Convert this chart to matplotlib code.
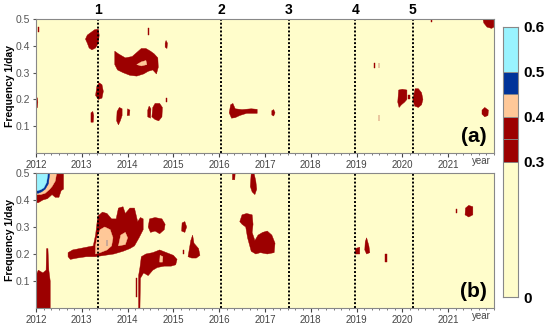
import numpy as np
import matplotlib.pyplot as plt
from matplotlib.colors import ListedColormap, BoundaryNorm

plt.rcParams['font.family'] = ['Liberation Sans', 'DejaVu Sans']

# colour levels (amplitude)
levels = [0, 0.3, 0.35, 0.4, 0.45, 0.5, 0.6]
level_colors = ["#FFFDCB", "#9C0000", "#9C0000", "#FFC898", "#003399", "#99F3FF"]
cbar_ticks = [0, 0.3, 0.4, 0.5, 0.6]

years = list(range(2012, 2022))
freq_ticks = [0.1, 0.2, 0.3, 0.4, 0.5]

# event markers
event_years = [2013.35, 2016.05, 2017.52, 2018.97, 2020.23]
event_labels = ["1", "2", "3", "4", "5"]

RED, PEACH, BLUE, CYAN = 0.36, 0.42, 0.47, 0.55

# panel (a): (level, outline as (year, frequency))
blobs_a = [
    (RED, [(2012.04, 0.45), (2012.07, 0.45), (2012.07, 0.472), (2012.04, 0.472)]),
    (RED, [(2012.0, 0.165), (2012.03, 0.17), (2012.04, 0.19), (2012.03, 0.205), (2012.0, 0.21)]),
    (RED, [(2013.08, 0.425), (2013.12, 0.44), (2013.2, 0.45), (2013.28, 0.46), (2013.36, 0.462),
           (2013.38, 0.44), (2013.36, 0.41), (2013.3, 0.392), (2013.22, 0.385), (2013.16, 0.392),
           (2013.12, 0.41)]),
    (RED, [(2013.3, 0.215), (2013.33, 0.25), (2013.38, 0.262), (2013.44, 0.255), (2013.47, 0.23),
           (2013.44, 0.205), (2013.36, 0.2)]),
    (RED, [(2013.2, 0.115), (2013.25, 0.115), (2013.26, 0.14), (2013.24, 0.155), (2013.2, 0.15)]),
    (RED, [(2013.72, 0.38), (2013.8, 0.37), (2013.95, 0.355), (2014.1, 0.36), (2014.2, 0.375),
           (2014.3, 0.39), (2014.4, 0.39), (2014.5, 0.38), (2014.58, 0.37), (2014.66, 0.355),
           (2014.67, 0.32), (2014.63, 0.295), (2014.55, 0.31), (2014.45, 0.305), (2014.35, 0.295),
           (2014.2, 0.287), (2014.05, 0.29), (2013.9, 0.3), (2013.78, 0.31), (2013.72, 0.33)]),
    (PEACH, [(2014.2, 0.33), (2014.3, 0.34), (2014.4, 0.345), (2014.42, 0.33), (2014.3, 0.325)]),
    (RED, [(2014.44, 0.44), (2014.47, 0.44), (2014.47, 0.465), (2014.44, 0.465)]),
    (RED, [(2014.82, 0.395), (2014.86, 0.39), (2014.87, 0.41), (2014.84, 0.42), (2014.82, 0.41)]),
    (RED, [(2014.83, 0.19), (2014.86, 0.19), (2014.86, 0.205), (2014.83, 0.205)]),
    (RED, [(2013.76, 0.12), (2013.8, 0.105), (2013.84, 0.12), (2013.88, 0.14), (2013.88, 0.165),
           (2013.82, 0.17), (2013.77, 0.155)]),
    (RED, [(2013.99, 0.14), (2014.04, 0.14), (2014.05, 0.16), (2014.0, 0.165)]),
    (RED, [(2014.44, 0.135), (2014.5, 0.13), (2014.51, 0.165), (2014.47, 0.175), (2014.44, 0.16)]),
    (RED, [(2014.53, 0.135), (2014.6, 0.125), (2014.68, 0.12), (2014.75, 0.135), (2014.76, 0.17),
           (2014.7, 0.185), (2014.6, 0.185), (2014.55, 0.17)]),
    (RED, [(2016.22, 0.15), (2016.25, 0.18), (2016.3, 0.185), (2016.35, 0.165), (2016.5, 0.162),
           (2016.7, 0.165), (2016.83, 0.163), (2016.83, 0.148), (2016.6, 0.148), (2016.45, 0.14),
           (2016.35, 0.132), (2016.27, 0.13)]),
    (RED, [(2017.15, 0.142), (2017.19, 0.138), (2017.22, 0.15), (2017.19, 0.162), (2017.15, 0.158)]),
    (RED, [(2019.38, 0.317), (2019.4, 0.317), (2019.4, 0.335), (2019.38, 0.335)]),
    (RED, [(2019.48, 0.317), (2019.5, 0.317), (2019.5, 0.335), (2019.48, 0.335)]),
    (RED, [(2019.48, 0.12), (2019.5, 0.12), (2019.5, 0.142), (2019.48, 0.142)]),
    (RED, [(2019.9, 0.19), (2019.93, 0.17), (2019.98, 0.18), (2020.05, 0.19), (2020.1, 0.2),
           (2020.1, 0.235), (2020.0, 0.238), (2019.92, 0.235)]),
    (RED, [(2020.13, 0.2), (2020.16, 0.2), (2020.16, 0.215), (2020.13, 0.215)]),
    (RED, [(2020.23, 0.2), (2020.27, 0.175), (2020.35, 0.17), (2020.42, 0.18), (2020.45, 0.2),
           (2020.42, 0.225), (2020.35, 0.24), (2020.28, 0.24)]),
    (RED, [(2021.74, 0.145), (2021.8, 0.135), (2021.87, 0.14), (2021.88, 0.16), (2021.8, 0.17),
           (2021.74, 0.16)]),
    (RED, [(2021.76, 0.5), (2022.0, 0.5), (2022.0, 0.47), (2021.95, 0.465), (2021.85, 0.47),
           (2021.78, 0.485)]),
    (RED, [(2020.62, 0.49), (2020.65, 0.49), (2020.65, 0.5), (2020.62, 0.5)]),
]

# panel (b)
blobs_b = [
    (RED, [(2012.0, 0.5), (2012.6, 0.5), (2012.6, 0.44), (2012.55, 0.435), (2012.5, 0.41),
           (2012.42, 0.41), (2012.35, 0.42), (2012.25, 0.405), (2012.15, 0.40), (2012.05, 0.39),
           (2012.0, 0.39)]),
    (PEACH, [(2012.0, 0.5), (2012.45, 0.5), (2012.42, 0.47), (2012.35, 0.45), (2012.3, 0.44),
             (2012.2, 0.425), (2012.1, 0.42), (2012.0, 0.42)]),
    (BLUE, [(2012.0, 0.5), (2012.3, 0.5), (2012.27, 0.46), (2012.2, 0.44), (2012.12, 0.43),
            (2012.05, 0.425), (2012.0, 0.425)]),
    (CYAN, [(2012.0, 0.5), (2012.26, 0.5), (2012.23, 0.465), (2012.17, 0.445), (2012.1, 0.438),
            (2012.04, 0.435), (2012.0, 0.433)]),
    (RED, [(2012.0, 0.0), (2012.31, 0.0), (2012.31, 0.1), (2012.28, 0.14), (2012.26, 0.22),
           (2012.23, 0.22), (2012.22, 0.14), (2012.15, 0.13), (2012.05, 0.14), (2012.0, 0.12)]),
    (RED, [(2012.7, 0.19), (2012.75, 0.18), (2012.9, 0.185), (2013.1, 0.19), (2013.3, 0.19),
           (2013.5, 0.195), (2013.7, 0.2), (2013.9, 0.21), (2014.05, 0.22), (2014.15, 0.23),
           (2014.25, 0.26), (2014.34, 0.29), (2014.34, 0.33), (2014.28, 0.335), (2014.22, 0.32),
           (2014.15, 0.37), (2014.05, 0.37), (2013.95, 0.35), (2013.9, 0.375), (2013.8, 0.37),
           (2013.75, 0.33), (2013.65, 0.33), (2013.55, 0.35), (2013.45, 0.355), (2013.35, 0.34),
           (2013.3, 0.27), (2013.25, 0.23), (2013.1, 0.225), (2012.95, 0.22), (2012.8, 0.215),
           (2012.7, 0.205)]),
    (PEACH, [(2013.3, 0.2), (2013.4, 0.205), (2013.55, 0.215), (2013.65, 0.23), (2013.68, 0.26),
             (2013.62, 0.29), (2013.5, 0.3), (2013.4, 0.29), (2013.33, 0.26), (2013.3, 0.23)]),
    (PEACH, [(2013.8, 0.23), (2013.95, 0.235), (2014.0, 0.26), (2013.95, 0.28), (2013.85, 0.27)]),
    (BLUE, [(2013.54, 0.23), (2013.56, 0.23), (2013.56, 0.25), (2013.54, 0.25)]),
    (RED, [(2014.45, 0.3), (2014.5, 0.28), (2014.6, 0.285), (2014.7, 0.275), (2014.8, 0.29),
           (2014.82, 0.31), (2014.75, 0.33), (2014.6, 0.335), (2014.48, 0.33)]),
    (RED, [(2014.27, 0.15), (2014.3, 0.19), (2014.4, 0.2), (2014.55, 0.205), (2014.7, 0.215),
           (2014.85, 0.205), (2015.0, 0.195), (2015.08, 0.18), (2015.05, 0.16), (2014.95, 0.155),
           (2014.8, 0.155), (2014.65, 0.15), (2014.55, 0.14), (2014.45, 0.12), (2014.35, 0.13),
           (2014.28, 0.11), (2014.27, 0.0), (2014.24, 0.0), (2014.24, 0.12)]),
    (PEACH, [(2014.7, 0.17), (2014.76, 0.17), (2014.77, 0.19), (2014.71, 0.195)]),
    (RED, [(2014.19, 0.04), (2014.21, 0.04), (2014.21, 0.11), (2014.19, 0.11)]),
    (RED, [(2015.18, 0.285), (2015.25, 0.28), (2015.29, 0.3), (2015.25, 0.32), (2015.19, 0.315)]),
    (RED, [(2015.32, 0.19), (2015.4, 0.185), (2015.5, 0.185), (2015.58, 0.195), (2015.55, 0.22),
           (2015.45, 0.24), (2015.42, 0.27), (2015.38, 0.25), (2015.35, 0.22)]),
    (RED, [(2015.2, 0.2), (2015.23, 0.2), (2015.23, 0.215), (2015.2, 0.215)]),
    (RED, [(2016.45, 0.32), (2016.5, 0.345), (2016.6, 0.35), (2016.72, 0.345), (2016.74, 0.31),
           (2016.72, 0.28), (2016.78, 0.25), (2016.85, 0.27), (2016.95, 0.28), (2017.05, 0.285),
           (2017.15, 0.27), (2017.22, 0.24), (2017.2, 0.205), (2017.05, 0.2), (2016.9, 0.205),
           (2016.8, 0.2), (2016.7, 0.21), (2016.62, 0.26), (2016.58, 0.3), (2016.5, 0.31)]),
    (RED, [(2016.68, 0.45), (2016.72, 0.43), (2016.78, 0.42), (2016.82, 0.44), (2016.8, 0.47),
           (2016.76, 0.5), (2016.7, 0.5)]),
    (RED, [(2016.29, 0.475), (2016.34, 0.475), (2016.35, 0.5), (2016.29, 0.5)]),
    (RED, [(2018.97, 0.2), (2019.07, 0.2), (2019.07, 0.225), (2018.97, 0.22)]),
    (RED, [(2019.18, 0.215), (2019.22, 0.2), (2019.29, 0.205), (2019.27, 0.23), (2019.22, 0.26),
           (2019.19, 0.245)]),
    (RED, [(2019.62, 0.17), (2019.66, 0.17), (2019.66, 0.2), (2019.62, 0.2)]),
    (RED, [(2021.37, 0.345), (2021.45, 0.337), (2021.54, 0.345), (2021.54, 0.375), (2021.45, 0.38),
           (2021.38, 0.37)]),
    (RED, [(2021.18, 0.35), (2021.2, 0.35), (2021.2, 0.365), (2021.18, 0.365)]),
]

cmap = ListedColormap(level_colors)
norm = BoundaryNorm(levels, cmap.N)

fig = plt.figure(figsize=(5.5, 3.28), dpi=100)
ax_a = fig.add_axes([0.0655, 0.5335, 0.8325, 0.4085])
ax_b = fig.add_axes([0.0655, 0.061, 0.8325, 0.4116])
cax = fig.add_axes([0.9145, 0.0945, 0.0275, 0.8232])

for ax, blobs, tag in [(ax_a, blobs_a, "(a)"), (ax_b, blobs_b, "(b)")]:
    ax.set_facecolor(cmap(norm(0.1)))
    for lev, pts in blobs:
        xs = [p[0] for p in pts]
        ys = [p[1] for p in pts]
        ax.fill(xs, ys, color=cmap(norm(lev)), lw=0.3, ec=cmap(norm(lev)))
    for ev in event_years:
        ax.axvline(ev, color="black", ls=(0, (1, 1)), lw=1.4)
    ax.set_xlim(2012, 2022)
    ax.set_ylim(0, 0.5)
    ax.set_xticks(years)
    ax.set_xticklabels([str(y) for y in years])
    ax.set_xticks(np.arange(2012, 2022.01, 1 / 6), minor=True)
    ax.set_yticks(freq_ticks)
    ax.set_yticklabels([f"{v:.1f}" for v in freq_ticks])
    ax.tick_params(axis="x", labelsize=7, colors="#444444", length=3, pad=2)
    ax.tick_params(axis="x", which="minor", length=1.5, colors="#666666")
    ax.tick_params(axis="y", labelsize=7.5, colors="#555555", length=2.5, pad=1.5)
    for s in ax.spines.values():
        s.set_color("#888888")
        s.set_linewidth(0.8)
    ax.set_ylabel("Frequency 1/day", fontsize=7.5, fontweight="bold", labelpad=1)
    ax.text(0.985, 0.05, tag, transform=ax.transAxes, ha="right", va="bottom",
            fontsize=15, fontweight="bold")
    ax.text(2021.72, -0.012, "year", ha="center", va="top", fontsize=7, color="#444444")

for ev, lab in zip(event_years, event_labels):
    ax_a.text(ev, 0.508, lab, ha="center", va="bottom", fontsize=10, fontweight="bold")

# colour key drawn as stacked bars
lows = levels[:-1]
heights = [hi - lo for lo, hi in zip(levels[:-1], levels[1:])]
cax.bar(0.5, heights, bottom=lows, width=1.0, color=level_colors,
        edgecolor="#888888", linewidth=0.6)
cax.set_xlim(0, 1)
cax.set_ylim(levels[0], levels[-1])
cax.set_xticks([])
cax.yaxis.tick_right()
cax.set_yticks(cbar_ticks)
cax.set_yticklabels(["0", "0.3", "0.4", "0.5", "0.6"], fontweight="bold")
cax.tick_params(axis="y", length=0, labelsize=11, pad=4)
for s in cax.spines.values():
    s.set_color("#888888")
    s.set_linewidth(0.8)

fig.savefig("out.png", dpi=100)
